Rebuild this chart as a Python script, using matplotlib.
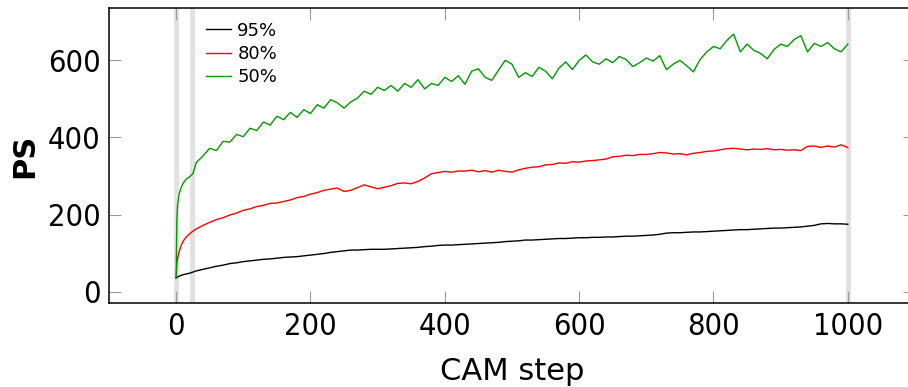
import matplotlib
matplotlib.use("Agg")
import matplotlib.pyplot as plt

steps = [0, 1, 2, 4, 7, 10, 15, 20, 25, 30] + list(range(40, 1001, 10))

ps_95 = [35, 37, 38, 40, 42, 44, 46, 48, 51, 54,
         58, 62, 66, 69, 73, 75, 78, 80, 82, 84,
         85, 87, 89, 90, 91, 93, 95, 97, 99, 102,
         104, 106, 108, 108, 109, 110, 110, 110, 111, 112,
         113, 114, 115, 117, 118, 120, 121, 121, 122, 123,
         124, 125, 126, 127, 128, 130, 131, 132, 134, 134,
         135, 136, 137, 138, 138, 139, 140, 140, 141, 141,
         142, 142, 143, 144, 144, 145, 146, 147, 149, 152,
         153, 153, 154, 155, 155, 156, 157, 158, 159, 160,
         161, 161, 162, 163, 164, 165, 165, 166, 167, 168,
         170, 172, 176, 177, 176, 176, 175]

ps_80 = [35, 70, 85, 100, 118, 130, 142, 150, 157, 163,
         172, 180, 187, 192, 199, 204, 211, 215, 221, 224,
         229, 230, 234, 238, 244, 247, 253, 257, 263, 266,
         269, 260, 263, 270, 277, 272, 267, 271, 275, 281,
         282, 280, 286, 295, 306, 309, 312, 310, 313, 313,
         315, 311, 314, 310, 315, 312, 310, 316, 320, 323,
         324, 329, 330, 334, 333, 337, 336, 339, 340, 342,
         344, 350, 351, 354, 353, 356, 356, 358, 361, 360,
         357, 358, 355, 359, 361, 364, 365, 368, 371, 372,
         370, 368, 370, 369, 371, 368, 369, 367, 368, 366,
         377, 378, 374, 378, 375, 381, 374]

ps_50 = [35, 180, 222, 250, 268, 280, 292, 298, 306, 335,
         352, 372, 366, 390, 388, 408, 402, 424, 418, 440,
         432, 455, 446, 465, 452, 472, 462, 485, 476, 498,
         490, 476, 492, 502, 520, 512, 530, 522, 535, 520,
         540, 530, 550, 526, 540, 535, 556, 545, 560, 538,
         572, 578, 556, 548, 575, 600, 590, 556, 568, 558,
         582, 572, 552, 580, 596, 576, 600, 614, 596, 590,
         604, 594, 610, 602, 584, 594, 606, 598, 612, 576,
         590, 600, 586, 570, 602, 622, 636, 630, 652, 668,
         622, 642, 626, 618, 604, 628, 642, 636, 654, 664,
         622, 644, 636, 646, 630, 622, 642]

labels = ["95%", "80%", "50%"]
colors = ["black", "#ff0000", "#009900"]
marks = [0, 23, 1000]   # light grey vertical guides
x_ticks = [0, 200, 400, 600, 800, 1000]
y_ticks = [0, 200, 400, 600]


def main():
    fig = plt.figure(figsize=(9.08, 3.87), dpi=100)
    ax = fig.add_axes([0.120, 0.2163, 0.8877, 0.7623])

    for m in marks:
        ax.axvline(m, color="#e2e2e2", linewidth=3.6, zorder=0)

    for y, lab, c in zip([ps_95, ps_80, ps_50], labels, colors):
        ax.plot(steps, y, color=c, linewidth=1.0, label=lab)

    ax.set_xlim(-100, 1100)
    ax.set_ylim(-30, 735)
    ax.set_xticks(x_ticks)
    ax.set_yticks(y_ticks)
    ax.tick_params(direction="in", length=8.5, width=0.8, color="#999999",
                   top=True, right=True, labelsize=22, pad=6)
    for t in ax.get_xticklabels() + ax.get_yticklabels():
        t.set_fontstretch("condensed")
    for s in ax.spines.values():
        s.set_linewidth(1.1)
    ax.spines["right"].set_visible(False)

    ax.set_xlabel("CAM step", fontsize=22, labelpad=12)
    ax.set_ylabel("PS", fontsize=22, fontweight="bold", labelpad=6)

    ax.legend(loc="upper left", bbox_to_anchor=(0.120, 0.955), frameon=False,
              fontsize=13, handlelength=1.4, handletextpad=0.35,
              labelspacing=0.3, borderpad=0, borderaxespad=0)

    fig.savefig("out.png", dpi=100)


if __name__ == "__main__":
    main()
